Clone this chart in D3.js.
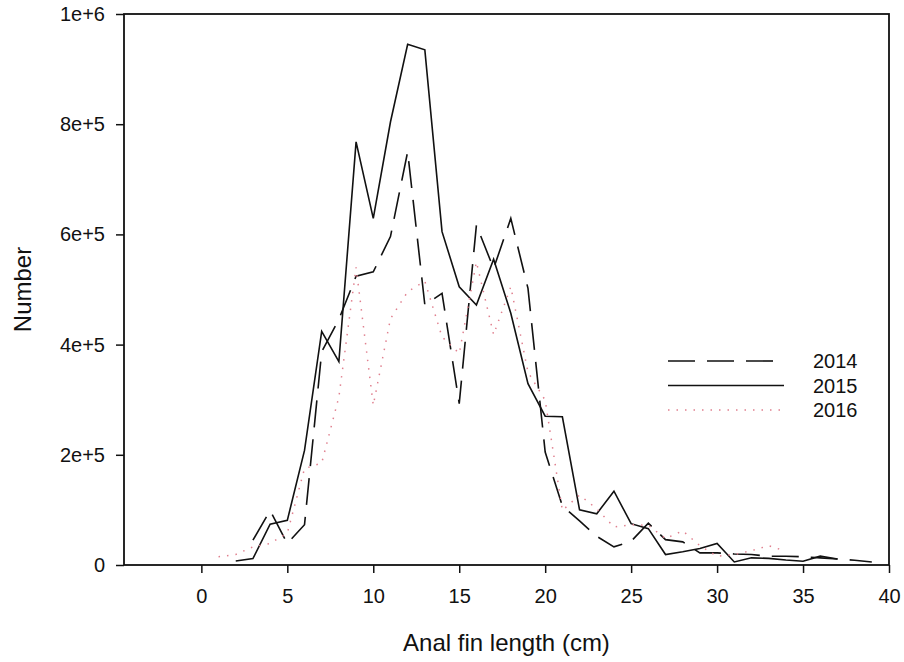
<!DOCTYPE html>
<html>
<head>
<meta charset="utf-8">
<script src="https://cdn.jsdelivr.net/npm/d3@7/dist/d3.min.js"></script>
<style>
  body { margin: 0; background: #fff; }
  svg { font-family: "Liberation Sans", Arial, sans-serif; }
</style>
</head>
<body>
<div id="chart"></div>
<script>
// Data (number of fish per anal fin length class)
const lengths2014 = [3, 4, 5, 6, 7, 8, 9, 10, 11, 12, 13, 14, 15, 16, 17, 18, 19, 20, 21, 22,
  23, 24, 25, 26, 27, 28, 29, 30, 31, 32, 33, 34, 35, 36, 37, 38, 39];
const counts2014 = [45000, 99000, 39000, 73000, 387000, 446000, 524000, 532000, 596000, 750000,
  472000, 493000, 293000, 617000, 538000, 629000, 502000, 205000, 107000, 80000,
  52000, 33000, 43000, 76000, 46000, 42000, 22000, 22000, 20000, 19000,
  16000, 16000, 15000, 13000, 11000, 8500, 5500];

const lengths2015 = [2, 3, 4, 5, 6, 7, 8, 9, 10, 11, 12, 13, 14, 15, 16, 17, 18, 19, 20, 21,
  22, 23, 24, 25, 26, 27, 28, 29, 30, 31, 32, 33, 34, 35, 36, 37];
const counts2015 = [7300, 11600, 74000, 81000, 208000, 424000, 369000, 768000, 629000, 804000,
  945000, 935000, 605000, 505000, 472000, 555000, 457000, 329000, 270000, 269000,
  100000, 93000, 134000, 75000, 66000, 19000, 24000, 30000, 39000, 5500,
  13000, 12000, 9000, 6700, 16000, 11000];

const lengths2016 = [1, 2, 3, 4, 5, 6, 7, 8, 9, 10, 11, 12, 13, 14, 15, 16, 17, 18, 19, 20,
  21, 22, 23, 24, 25, 26, 27, 28, 29, 30, 31, 32, 33, 34];
const counts2016 = [15000, 19000, 33000, 39000, 58000, 175000, 185000, 305000, 540000, 290000,
  447000, 496000, 515000, 414000, 384000, 550000, 418000, 505000, 350000, 299000,
  99000, 127000, 102000, 69000, 73000, 72000, 48000, 62000, 35000, 16000,
  19000, 26000, 35000, 25000];

const seriesNames = ["2014", "2015", "2016"];
const xTicks = [0, 5, 10, 15, 20, 25, 30, 35, 40];
const yTicks = [0, 200000, 400000, 600000, 800000, 1000000];
const yTickLabels = ["0", "2e+5", "4e+5", "6e+5", "8e+5", "1e+6"];

const width = 904;
const height = 662;
const margin = {top: 14, right: 15, bottom: 97, left: 124};
const innerWidth = width - margin.left - margin.right;
const innerHeight = height - margin.top - margin.bottom;

const series = [
  {name: seriesNames[0], values: lengths2014.map((x, i) => ({x, y: counts2014[i]})),
   stroke: "#111", width: 1.6, dash: "27,12"},
  {name: seriesNames[1], values: lengths2015.map((x, i) => ({x, y: counts2015[i]})),
   stroke: "#111", width: 1.6, dash: null},
  {name: seriesNames[2], values: lengths2016.map((x, i) => ({x, y: counts2016[i]})),
   stroke: "#e0808f", width: 1.5, dash: "1.5,7"}
];

/*******************************/
/*    Append the containers    */
/*******************************/
const svg = d3.select("#chart")
  .append("svg")
    .attr("width", width)
    .attr("height", height);

const innerChart = svg
  .append("g")
    .attr("transform", `translate(${margin.left}, ${margin.top})`);

/****************************/
/*    Declare the scales    */
/****************************/
const xScale = d3.scaleLinear()
  .domain([-4.5, 40])
  .range([0, innerWidth]);

const yScale = d3.scaleLinear()
  .domain([0, 1000000])
  .range([innerHeight, 0]);

/***************************/
/*     Append the axes     */
/***************************/
const bottomAxis = d3.axisBottom(xScale)
  .tickValues(xTicks)
  .tickSize(8)
  .tickPadding(16)
  .tickFormat(d3.format("d"));
innerChart
  .append("g")
    .attr("class", "axis-x")
    .attr("transform", `translate(0, ${innerHeight})`)
    .call(bottomAxis);

const leftAxis = d3.axisLeft(yScale)
  .tickValues(yTicks)
  .tickSize(8)
  .tickPadding(11)
  .tickFormat((d, i) => yTickLabels[i]);
innerChart
  .append("g")
    .attr("class", "axis-y")
    .call(leftAxis);

svg.selectAll(".axis-x path, .axis-y path").remove();
svg.selectAll(".tick line")
  .attr("stroke", "#111")
  .attr("stroke-width", 1.5);
svg.selectAll(".tick text")
  .attr("fill", "#111")
  .style("font-size", "20px")
  .style("font-family", "'Liberation Sans', Arial, sans-serif");

// Frame around the plot
innerChart
  .append("rect")
    .attr("x", 0)
    .attr("y", 0)
    .attr("width", innerWidth)
    .attr("height", innerHeight)
    .attr("fill", "none")
    .attr("stroke", "#111")
    .attr("stroke-width", 1.8);

// Axis titles
svg
  .append("text")
    .text("Anal fin length (cm)")
    .attr("text-anchor", "middle")
    .attr("x", margin.left + innerWidth / 2)
    .attr("y", 651)
    .attr("fill", "#111")
    .style("font-size", "24px");
svg
  .append("text")
    .text("Number")
    .attr("text-anchor", "middle")
    .attr("transform", `translate(31, ${margin.top + innerHeight / 2}) rotate(-90)`)
    .attr("fill", "#111")
    .style("font-size", "24px");

/******************************/
/*      Append the lines      */
/******************************/
const lineGenerator = d3.line()
  .x(d => xScale(d.x))
  .y(d => yScale(d.y));

innerChart
  .selectAll(".series")
  .data(series)
  .join("path")
    .attr("class", "series")
    .attr("d", d => lineGenerator(d.values))
    .attr("fill", "none")
    .attr("stroke", d => d.stroke)
    .attr("stroke-width", d => d.width)
    .attr("stroke-dasharray", d => d.dash)
    .attr("stroke-linejoin", "miter");

/******************************/
/*     Append the legend      */
/******************************/
const legend = svg
  .append("g")
    .attr("transform", "translate(668, 361)");

const legendItems = legend
  .selectAll(".legend-item")
  .data(series)
  .join("g")
    .attr("class", "legend-item")
    .attr("transform", (d, i) => `translate(0, ${i * 24.5})`);

legendItems
  .append("line")
    .attr("x1", 0)
    .attr("x2", 116)
    .attr("y1", 0)
    .attr("y2", 0)
    .attr("stroke", d => d.stroke)
    .attr("stroke-width", d => d.width)
    .attr("stroke-dasharray", d => d.dash);

legendItems
  .append("text")
    .text(d => d.name)
    .attr("x", 145)
    .attr("y", 7)
    .attr("fill", "#111")
    .style("font-size", "20px");
</script>
</body>
</html>
